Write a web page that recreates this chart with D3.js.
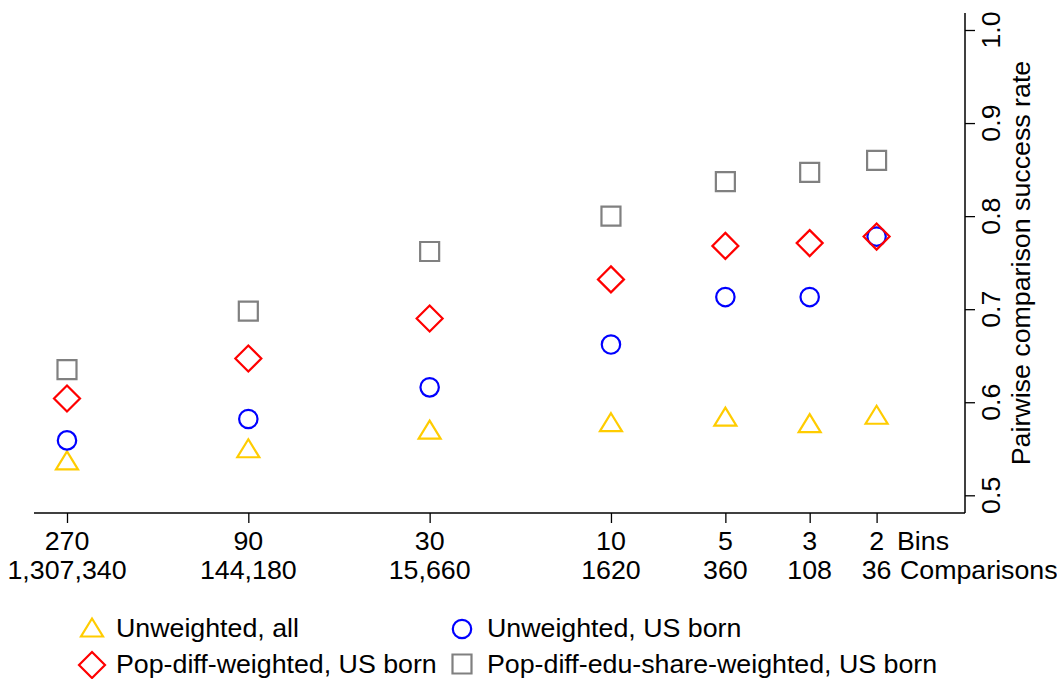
<!DOCTYPE html>
<html>
<head>
<meta charset="utf-8">
<script src="https://cdn.jsdelivr.net/npm/d3@7"></script>
<style>
  html, body { margin: 0; padding: 0; background: #fff; }
  svg { display: block; }
  text { font-family: "Liberation Sans", Arial, Helvetica, sans-serif; fill: #000; }
</style>
</head>
<body>
<svg id="chart" width="1057" height="679"></svg>
<script>
// ---- data ----
const bins = [270, 90, 30, 10, 5, 3, 2];
const comparisons = ["1,307,340", "144,180", "15,660", "1620", "360", "108", "36"];
const unweightedAll = [0.537, 0.550, 0.570, 0.578, 0.584, 0.577, 0.586];
const unweightedUS = [0.559, 0.582, 0.616, 0.662, 0.713, 0.713, 0.778];
const popDiffUS = [0.604, 0.647, 0.690, 0.732, 0.768, 0.771, 0.778];
const eduShareUS = [0.635, 0.698, 0.762, 0.800, 0.837, 0.847, 0.860];
const yTicks = [0.5, 0.6, 0.7, 0.8, 0.9, 1.0];
const seriesNames = ["Unweighted, all", "Unweighted, US born", "Pop-diff-weighted, US born", "Pop-diff-edu-share-weighted, US born"];

// ---- setup ----
const svg = d3.select("#chart");
const FS = 25.5;
const SX = 1.05; // slight horizontal stretch of text, as in the reference
const x = d3.scaleLog().domain([270, 2]).range([67, 876.6]);
const y = d3.scaleLinear().domain([0.5, 1.0]).range([495.3, 30]);
const axisY = 513, axisX = 965, axisTop = 13, axisLeft = 34;

const shapes = {
  triangle: "M0,-9.5 L11,8.5 L-11,8.5 Z",
  diamond: "M0,-13 L13,0 L0,13 L-13,0 Z",
  square: "M-9.5,-9.5 L9.5,-9.5 L9.5,9.5 L-9.5,9.5 Z"
};
const series = [
  {name: seriesNames[0], values: unweightedAll, shape: "triangle", color: "#FFCC00"},
  {name: seriesNames[1], values: unweightedUS, shape: "circle", color: "#0000FF"},
  {name: seriesNames[2], values: popDiffUS, shape: "diamond", color: "#FF0000"},
  {name: seriesNames[3], values: eduShareUS, shape: "square", color: "#808080"}
];

function drawMarker(g, shape, color, cx, cy) {
  if (shape === "circle") {
    g.append("circle").attr("cx", cx).attr("cy", cy).attr("r", 9.2)
      .attr("fill", "none").attr("stroke", color).attr("stroke-width", 2.2);
  } else {
    g.append("path").attr("d", shapes[shape]).attr("transform", `translate(${cx},${cy})`)
      .attr("fill", "none").attr("stroke", color).attr("stroke-width", 2.2)
      .attr("stroke-linejoin", "miter");
  }
}

function addText(g, tx, ty, str, anchor, rot) {
  return g.append("text")
    .attr("transform", `translate(${tx},${ty})` + (rot ? ` rotate(${rot})` : "") + ` scale(${SX},1)`)
    .attr("text-anchor", anchor || "start")
    .attr("font-size", FS).text(str);
}

// ---- axes ----
const xAxis = d3.axisBottom(x).tickValues(bins).tickSize(10).tickFormat("");
const gx = svg.append("g").attr("transform", `translate(0,${axisY})`).call(xAxis);
gx.select(".domain").remove();
gx.selectAll(".tick line").attr("stroke", "#000").attr("stroke-width", 1.3);
svg.append("line").attr("x1", axisLeft).attr("x2", axisX).attr("y1", axisY).attr("y2", axisY)
  .attr("stroke", "#000").attr("stroke-width", 1.5);

const yAxis = d3.axisRight(y).tickValues(yTicks).tickSize(10).tickFormat("");
const gy = svg.append("g").attr("transform", `translate(${axisX},0)`).call(yAxis);
gy.select(".domain").remove();
gy.selectAll(".tick line").attr("stroke", "#000").attr("stroke-width", 1.3);
svg.append("line").attr("x1", axisX).attr("x2", axisX).attr("y1", axisTop).attr("y2", axisY)
  .attr("stroke", "#000").attr("stroke-width", 1.5);

// y tick labels (rotated)
const gyl = svg.append("g");
yTicks.forEach(d => {
  addText(gyl, 991, y(d), d3.format(".1f")(d), "middle", -90).attr("dominant-baseline", "central");
});

// y axis title
addText(svg, 1021, 263, "Pairwise comparison success rate", "middle", -90).attr("dominant-baseline", "central");

// x labels: bins and comparisons
const gxl = svg.append("g");
bins.forEach((b, i) => {
  addText(gxl, x(b), 550, String(b), "middle");
  addText(gxl, x(b), 579, comparisons[i], "middle");
});
addText(svg, 897, 550, "Bins");
addText(svg, 900, 579, "Comparisons");

// ---- points ----
const gp = svg.append("g");
series.forEach(s => {
  s.values.forEach((v, i) => drawMarker(gp, s.shape, s.color, x(bins[i]), y(v)));
});

// ---- legend ----
const legendPos = [
  {mx: 92, my: 628, tx: 116, ty: 637},
  {mx: 462, my: 629, tx: 487, ty: 637},
  {mx: 92, my: 665, tx: 116, ty: 673},
  {mx: 462, my: 664, tx: 487, ty: 673}
];
const gl = svg.append("g");
series.forEach((s, i) => {
  const p = legendPos[i];
  drawMarker(gl, s.shape, s.color, p.mx, p.my);
  addText(gl, p.tx, p.ty, s.name);
});
</script>
</body>
</html>
